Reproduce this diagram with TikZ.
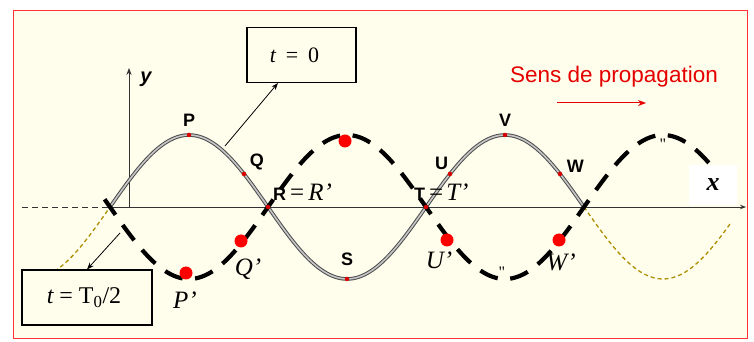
\documentclass[tikz,border=0pt]{standalone}
\usepackage{fontspec}
\setmainfont{Liberation Serif}
\setsansfont{Liberation Sans}
\usetikzlibrary{arrows.meta,positioning,calc}

\begin{document}
\begin{tikzpicture}[
    x=1pt, y=1pt,
    declare function={wv(\u)=135+72*sin(1.139241*(\u-110));
                      wd(\u)=135-72*sin(1.139241*(\u-110));},
    ax/.style={draw=black!80, line width=0.9pt},
    wave/.style={draw=black!70, line width=1pt, double=gray!45, double distance=1.6pt},
    ext/.style={draw=olive!70!orange, line width=1.3pt, dash pattern=on 4pt off 3pt},
    half/.style={draw=black, line width=4.2pt, dash pattern=on 19pt off 12.5pt},
    spt/.style={circle, fill=red!85!black, inner sep=0pt, minimum size=4.5pt},
    bpt/.style={circle, fill=red, inner sep=0pt, minimum size=13pt},
    lbl/.style={font=\sffamily\bfseries\fontsize{18}{18}\selectfont, inner sep=1pt},
    plbl/.style={font=\itshape\fontsize{25}{25}\selectfont, inner sep=0pt},
    tbox/.style={draw=black, line width=1.1pt, fill=yellow!7,
                 minimum height=55pt, inner sep=0pt},
    fl/.style={-{Stealth[length=7pt]}, draw=black, line width=0.8pt}
  ]
  \useasboundingbox (0,0) rectangle (754,342);
  \fill[yellow!7] (13,4) rectangle (747,332);
  \draw[red!80, line width=0.8pt] (13,4) rectangle (747,332);

  % axes
  \coordinate (o) at (129,135);
  \coordinate (xl) at (22,135);
  \coordinate (x0) at (110,135);
  \coordinate (xe) at (746,135);
  \coordinate (ye) at (129,274);
  \draw[ax, dash pattern=on 6pt off 4pt] (xl) -- (x0);
  \draw[ax, -{Stealth[length=6pt]}] (x0) -- (xe);
  \draw[ax, -{Stealth[length=7pt]}] (o) -- (ye);
  \node[font=\sffamily\bfseries\itshape\fontsize{20}{20}\selectfont] (ylab) at (146,263) {y};

  % wave at t = 0
  \draw[ext] plot[domain=42:110, samples=30] (\x, {wv(\x)});
  \draw[ext] plot[domain=584:730, samples=50] (\x, {wv(\x)});
  \draw[wave] plot[domain=110:584, samples=120] (\x, {wv(\x)});

  % wave at t = T0/2
  \draw[half] plot[domain=104.6:728, samples=200] (\x, {wd(\x)});

  % points at t = 0
  \foreach \n/\px in {P/189, Q/244, R/268, S/347, T/426, U/450, V/505, W/560}
    \node[spt] (\n) at (\px, {wv(\px)}) {};
  \node[lbl, above=5pt of P] (Plab) {P};
  \node[lbl, above right=1pt and 3pt of Q] (Qlab) {Q};
  \node[lbl, above=10pt of S] (Slab) {S};
  \node[lbl, above left=1pt and -1pt of U] (Ulab) {U};
  \node[lbl, above=5pt of V] (Vlab) {V};
  \node[lbl, above right=-2pt and 4pt of W] (Wlab) {W};
  \node[anchor=base west, inner sep=0pt, font=\fontsize{25}{25}\selectfont] (Rlab) at (273,141)
    {{\sffamily\bfseries\fontsize{18}{18}\selectfont R}\kern4pt=\kern4pt\itshape R’};
  \node[anchor=base west, inner sep=0pt, font=\fontsize{25}{25}\selectfont] (Tlab) at (414,141)
    {{\sffamily\bfseries\fontsize{18}{18}\selectfont T}\kern4pt=\kern3pt\itshape T’};

  % points at t = T0/2
  \node[bpt] (Pp) at (186,69) {};
  \node[bpt] (Qp) at (241,101) {};
  \node[bpt] (Sp) at (345,201) {};
  \node[bpt] (Up) at (447,102) {};
  \node[bpt] (Wp) at (559,102) {};
  \node[plbl] (Pplab) at (185,42) {P’};
  \node[plbl] (Qplab) at (248,73) {Q’};
  \node[plbl] (Uplab) at (439,82) {U’};
  \node[plbl] (Wplab) at (561,80) {W’};
  \node[font=\fontsize{16}{16}\selectfont] (m1) at (502,70) {\textquotedbl};
  \node[font=\fontsize{16}{16}\selectfont] (m2) at (663,198) {\textquotedbl};

  % x label
  \node[fill=white, minimum width=48pt, minimum height=40pt, inner sep=0pt,
        font=\bfseries\itshape\fontsize{26}{26}\selectfont] (xlab) at (713,157) {x};

  % boxes
  \node[tbox, minimum width=109pt, font=\fontsize{22}{22}\selectfont] (box0) at (301.5,287)
    {\itshape t\upshape\hspace{0.45em}=\hspace{0.45em}0\kern14pt};
  \node[tbox, minimum width=130pt, font=\fontsize{24}{24}\selectfont] (boxh) at (87,44.5)
    {\itshape t\upshape\hspace{0.25em}=\hspace{0.25em}T\textsubscript{0}/2\kern6pt};
  \coordinate (c0) at (225,196);
  \coordinate (ch) at (120,109);
  \draw[fl] (c0) -- (box0);
  \draw[fl] (ch) -- (boxh.north);

  % direction
  \node[text=red!90!black, font=\sffamily\fontsize{22.5}{22.5}\selectfont] (sens) at (614,265) {Sens de propagation};
  \coordinate (s1) at (557,239);
  \coordinate (s2) at (646,239);
  \draw[red!90!black, line width=1pt, -{Stealth[length=8pt]}] (s1) -- (s2);
\end{tikzpicture}
\end{document}
